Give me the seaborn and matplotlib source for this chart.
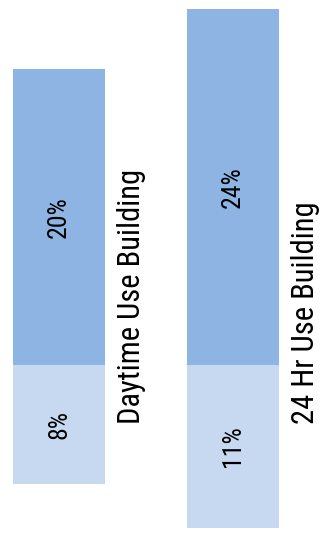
import matplotlib
matplotlib.use("Agg")
import matplotlib.pyplot as plt
import seaborn as sns
import pandas as pd
from matplotlib import font_manager

# Data
buildings = ["Daytime Use Building", "24 Hr Use Building"]
upper_pct = [20, 24]
lower_pct = [8, 11]

UPPER_COLOR = "#8EB4E3"
LOWER_COLOR = "#C6D9F1"

sns.set_theme(style="white")

installed = {f.name for f in font_manager.fontManager.ttflist}
families = [f for f in ["Roboto Condensed", "Liberation Sans Narrow", "Arial Narrow"] if f in installed]
families += ["Liberation Sans", "DejaVu Sans"]
plt.rcParams["font.family"] = families

df = pd.DataFrame({
    "building": buildings * 2,
    "value": upper_pct + [-v for v in lower_pct],
    "part": ["upper"] * 2 + ["lower"] * 2,
})

fig = plt.figure(figsize=(3.27, 5.33), dpi=100)
ax = fig.add_axes([0, 0, 1, 1])

sns.barplot(data=df[df.part == "upper"], x="building", y="value",
            color=UPPER_COLOR, width=0.527, saturation=1, ax=ax,
            errorbar=None, linewidth=0)
sns.barplot(data=df[df.part == "lower"], x="building", y="value",
            color=LOWER_COLOR, width=0.527, saturation=1, ax=ax,
            errorbar=None, linewidth=0)

ax.set_xlim(-0.340, 1.539)
ax.set_ylim(-11.34, 24.63)
ax.set_axis_off()

for i, (up, lo) in enumerate(zip(upper_pct, lower_pct)):
    ax.text(i, up / 2, f"{up}%", rotation=90, ha="center", va="center",
            fontsize=18.5, color="black")
    ax.text(i, -lo / 2, f"{lo}%", rotation=90, ha="center", va="center",
            fontsize=18.5, color="black")
    ax.text(i + 0.418, -4.0, buildings[i], rotation=90, ha="center", va="bottom",
            fontsize=22, color="black")

fig.savefig("out.png", dpi=100)
